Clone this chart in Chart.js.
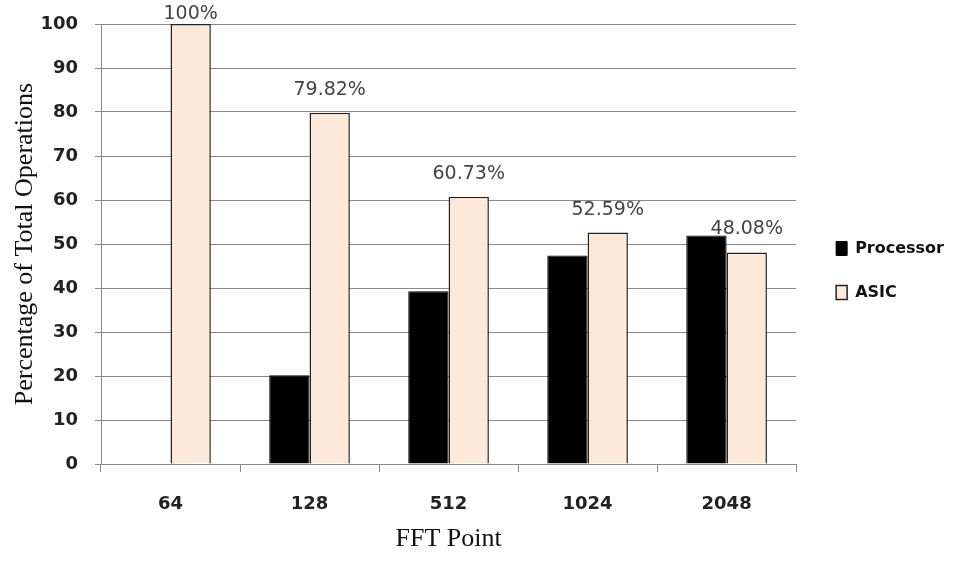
<!DOCTYPE html>
<html>
<head>
<meta charset="utf-8">
<script src="https://cdn.jsdelivr.net/npm/chart.js@4"></script>
<style>
  body { margin: 0; background: #fff; }
</style>
</head>
<body>
<canvas id="c" width="960" height="561"></canvas>
<script>
const categories = ["64", "128", "512", "1024", "2048"];
const processorValues = [0, 20.18, 39.27, 47.41, 51.92];
const asicValues = [100, 79.82, 60.73, 52.59, 48.08];
const asicLabels = ["100%", "79.82%", "60.73%", "52.59%", "48.08%"];

// labels above the ASIC bars
const barLabels = {
  id: "barLabels",
  afterDatasetsDraw(chart) {
    const ctx = chart.ctx;
    const meta = chart.getDatasetMeta(1);
    ctx.save();
    ctx.font = "19px 'DejaVu Sans'";
    ctx.fillStyle = "#444";
    ctx.textAlign = "center";
    ctx.textBaseline = "middle";
    meta.data.forEach((bar, i) => {
      ctx.fillText(asicLabels[i], bar.x, Math.max(bar.y - 23, 14));
    });
    ctx.restore();
  }
};

// push the legend a bit away from the plot and up
const legendShift = {
  id: "legendShift",
  afterLayout(chart) {
    chart.legend.left += 12;
    chart.legend.right += 12;
    chart.legend.top -= 21;
    chart.legend.bottom -= 21;
  }
};

new Chart(document.getElementById("c").getContext("2d"), {
  type: "bar",
  data: {
    labels: categories,
    datasets: [
      {
        label: "Processor",
        data: processorValues,
        backgroundColor: "#000",
        borderColor: "#000",
        borderWidth: 1
      },
      {
        label: "ASIC",
        data: asicValues,
        backgroundColor: "#fde9d9",
        borderColor: "#222",
        borderWidth: 1.5
      }
    ]
  },
  options: {
    responsive: false,
    animation: false,
    categoryPercentage: 0.58,
    barPercentage: 1,
    layout: { padding: { top: 24, right: 18, left: 0, bottom: 2 } },
    plugins: {
      legend: {
        position: "right",
        labels: {
          boxWidth: 11,
          boxHeight: 14,
          padding: 28,
          color: "#111",
          font: { family: "'DejaVu Sans'", size: 16, weight: "bold" }
        }
      },
      tooltip: { enabled: false }
    },
    scales: {
      x: {
        afterFit(scale) { scale.height = 95; },
        grid: { drawOnChartArea: false, tickLength: 8, color: "#888", offset: true },
        border: { color: "#888" },
        ticks: { padding: 22, color: "#222", font: { family: "'DejaVu Sans'", size: 18, weight: "bold" } },
        title: {
          display: true,
          text: "FFT Point",
          color: "#111",
          font: { family: "'Liberation Serif'", size: 26 },
          padding: { top: 9, bottom: 4 }
        }
      },
      y: {
        afterFit(scale) {
          scale.width = 101;
          scale.paddingTop = 11;
        },
        min: 0,
        max: 100,
        ticks: { stepSize: 10, padding: 17, color: "#222", font: { family: "'DejaVu Sans'", size: 18, weight: "bold" } },
        grid: { color: "#888", tickLength: 6 },
        border: { color: "#888" },
        title: {
          display: true,
          text: "Percentage of Total Operations",
          color: "#111",
          font: { family: "'Liberation Serif'", size: 26 },
          padding: { top: 10, bottom: 0 }
        }
      }
    }
  },
  plugins: [barLabels, legendShift]
});
</script>
</body>
</html>
